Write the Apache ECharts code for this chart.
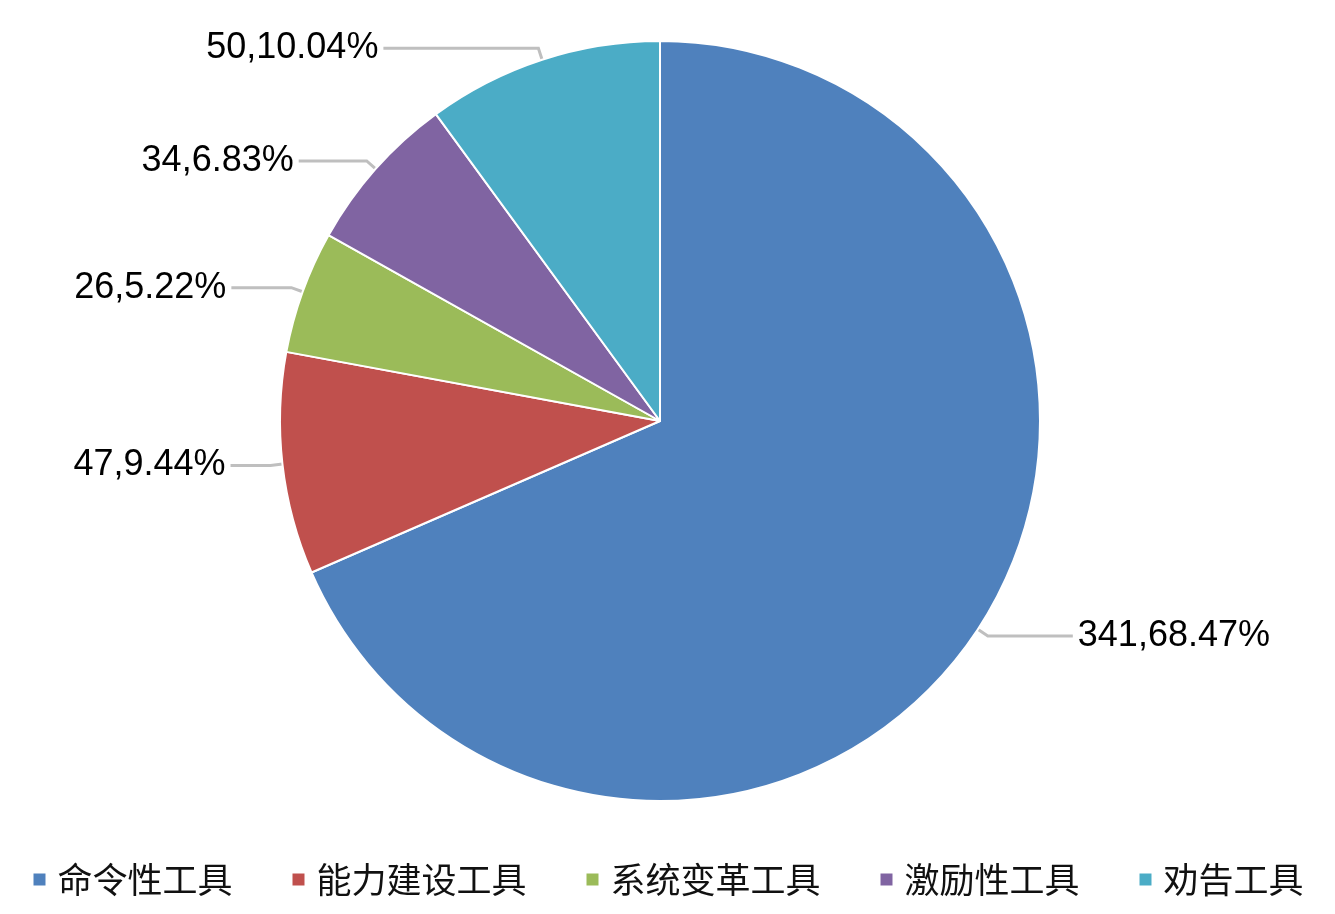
<!DOCTYPE html>
<html>
<head>
<meta charset="utf-8">
<script src="https://cdn.jsdelivr.net/npm/echarts@6/dist/echarts.min.js"></script>
<style>
  html, body { margin: 0; padding: 0; background: #fff; }
  #chart { width: 1335px; height: 914px; }
</style>
</head>
<body>
<div id="chart"></div>
<script>
// 政策工具分布
const categories = ['命令性工具', '能力建设工具', '系统变革工具', '激励性工具', '劝告工具'];
const counts = [341, 47, 26, 34, 50];
const colors = ['#4F81BD', '#C0504D', '#9BBB59', '#8064A2', '#4BACC6'];

// 引导线水平段长度（样式）
const lineLen2 = [85, 40, 60, 68, 155];

const total = counts.reduce((a, b) => a + b, 0);

const chart = echarts.init(document.getElementById('chart'));

chart.setOption({
  animation: false,
  color: colors,
  legend: {
    bottom: 12,
    left: 'center',
    icon: 'rect',
    itemWidth: 14,
    itemHeight: 14,
    itemGap: 58,
    textStyle: {
      fontSize: 35,
      color: '#111',
      fontFamily: 'Noto Sans CJK SC',
      padding: [0, 0, 0, 6]
    },
    data: categories
  },
  series: [
    {
      type: 'pie',
      center: [660, 421],
      radius: 380,
      startAngle: 90,
      clockwise: true,
      avoidLabelOverlap: false,
      itemStyle: {
        borderColor: '#fff',
        borderWidth: 2
      },
      label: {
        show: true,
        fontSize: 36,
        color: '#000',
        fontFamily: 'Liberation Sans, Arial',
        formatter: p => p.value + ',' + (p.value / total * 100).toFixed(2) + '%'
      },
      labelLine: {
        show: true,
        length: 12,
        length2: 60,
        lineStyle: { color: '#BFBFBF', width: 3 }
      },
      data: categories.map((name, i) => ({
        name: name,
        value: counts[i],
        labelLine: { length2: lineLen2[i] }
      }))
    }
  ]
});
</script>
</body>
</html>
